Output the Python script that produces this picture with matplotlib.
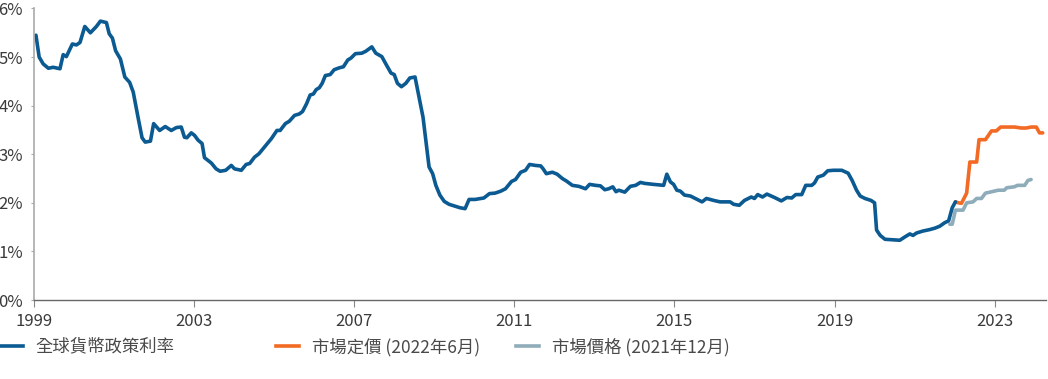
import matplotlib
matplotlib.use('Agg')
import matplotlib.pyplot as plt
from matplotlib.lines import Line2D
from matplotlib.ticker import FuncFormatter

plt.rcParams['font.family'] = ['Noto Sans CJK TC', 'DejaVu Sans']

# Global policy rate (decimal year, %)
policy_years = [
    1999.05, 1999.13, 1999.23, 1999.36, 1999.48, 1999.65, 1999.73, 1999.81, 1999.96,
    2000.06, 2000.15, 2000.27, 2000.41, 2000.56, 2000.66, 2000.81, 2000.88, 2000.96,
    2001.04, 2001.16, 2001.27, 2001.39, 2001.48, 2001.60, 2001.70, 2001.78, 2001.91,
    2001.99, 2002.14, 2002.28, 2002.43, 2002.56, 2002.68, 2002.76, 2002.82, 2002.93,
    2003.01, 2003.10, 2003.20, 2003.26, 2003.43, 2003.55, 2003.65, 2003.79, 2003.93,
    2004.01, 2004.18, 2004.30, 2004.39, 2004.51, 2004.62, 2004.76, 2004.93, 2005.07,
    2005.15, 2005.28, 2005.38, 2005.51, 2005.63, 2005.71, 2005.81, 2005.90, 2005.98,
    2006.05, 2006.13, 2006.20, 2006.28, 2006.40, 2006.50, 2006.63, 2006.73, 2006.84,
    2006.92, 2007.03, 2007.19, 2007.29, 2007.44, 2007.54, 2007.69, 2007.79, 2007.92,
    2008.00, 2008.08, 2008.18, 2008.29, 2008.39, 2008.52, 2008.62, 2008.72, 2008.81,
    2008.87, 2008.96, 2009.04, 2009.14, 2009.25, 2009.37, 2009.52, 2009.64, 2009.77,
    2009.87, 2010.02, 2010.24, 2010.38, 2010.52, 2010.66, 2010.78, 2010.93, 2011.03,
    2011.16, 2011.28, 2011.38, 2011.53, 2011.66, 2011.72, 2011.80, 2011.95, 2012.07,
    2012.20, 2012.30, 2012.45, 2012.61, 2012.78, 2012.88, 2013.03, 2013.15, 2013.26,
    2013.36, 2013.46, 2013.54, 2013.61, 2013.76, 2013.90, 2014.03, 2014.15, 2014.26,
    2014.48, 2014.73, 2014.81, 2014.90, 2014.98, 2015.06, 2015.15, 2015.25, 2015.40,
    2015.52, 2015.69, 2015.80, 2015.98, 2016.14, 2016.39, 2016.48, 2016.62, 2016.75,
    2016.92, 2017.00, 2017.08, 2017.20, 2017.31, 2017.50, 2017.67, 2017.81, 2017.93,
    2018.03, 2018.18, 2018.28, 2018.43, 2018.50, 2018.58, 2018.72, 2018.83, 2018.97,
    2019.18, 2019.34, 2019.44, 2019.55, 2019.64, 2019.76, 2019.91, 2020.00, 2020.05,
    2020.14, 2020.26, 2020.63, 2020.76, 2020.88, 2020.96, 2021.05, 2021.21, 2021.38,
    2021.51, 2021.63, 2021.75, 2021.85, 2021.94, 2022.02,
]
policy_rate = [
    5.45, 5.00, 4.86, 4.77, 4.79, 4.76, 5.05, 5.01, 5.27,
    5.25, 5.30, 5.63, 5.50, 5.63, 5.74, 5.71, 5.48, 5.39,
    5.13, 4.96, 4.59, 4.48, 4.28, 3.76, 3.34, 3.25, 3.27,
    3.63, 3.49, 3.57, 3.49, 3.55, 3.56, 3.35, 3.34, 3.44,
    3.39, 3.29, 3.22, 2.93, 2.82, 2.70, 2.65, 2.67, 2.77,
    2.70, 2.67, 2.79, 2.81, 2.94, 3.01, 3.15, 3.32, 3.49,
    3.49, 3.63, 3.68, 3.80, 3.83, 3.88, 4.04, 4.22, 4.24,
    4.33, 4.37, 4.46, 4.62, 4.64, 4.74, 4.78, 4.80, 4.94,
    4.98, 5.07, 5.08, 5.12, 5.21, 5.08, 5.01, 4.86, 4.67,
    4.64, 4.46, 4.39, 4.46, 4.57, 4.59, 4.17, 3.76, 3.15,
    2.74, 2.60, 2.36, 2.16, 2.03, 1.97, 1.93, 1.90, 1.88,
    2.07, 2.07, 2.10, 2.19, 2.20, 2.24, 2.29, 2.44, 2.48,
    2.63, 2.67, 2.79, 2.77, 2.76, 2.70, 2.60, 2.63, 2.59,
    2.50, 2.45, 2.36, 2.34, 2.29, 2.38, 2.36, 2.35, 2.27,
    2.29, 2.33, 2.23, 2.26, 2.22, 2.34, 2.36, 2.42, 2.40,
    2.38, 2.36, 2.59, 2.43, 2.38, 2.26, 2.24, 2.16, 2.14,
    2.09, 2.02, 2.09, 2.05, 2.02, 2.02, 1.97, 1.95, 2.05,
    2.12, 2.09, 2.17, 2.12, 2.18, 2.11, 2.04, 2.11, 2.10,
    2.17, 2.17, 2.36, 2.36, 2.41, 2.53, 2.57, 2.66, 2.67,
    2.67, 2.61, 2.46, 2.26, 2.14, 2.09, 2.05, 2.00, 1.44,
    1.33, 1.25, 1.23, 1.30, 1.36, 1.33, 1.38, 1.42, 1.45,
    1.48, 1.52, 1.59, 1.63, 1.90, 2.02,
]

# Market pricing as of June 2022
jun22_years = [2022.02, 2022.10, 2022.17, 2022.30, 2022.38, 2022.55, 2022.61, 2022.77,
               2022.92, 2023.04, 2023.15, 2023.50, 2023.66, 2023.79, 2023.91, 2024.04,
               2024.12, 2024.20]
jun22_rate = [2.02, 2.00, 1.99, 2.20, 2.84, 2.84, 3.30, 3.30,
              3.48, 3.48, 3.56, 3.56, 3.54, 3.54, 3.56, 3.56,
              3.44, 3.44]

# Market pricing as of December 2021
dec21_years = [2021.88, 2021.94, 2022.02, 2022.21, 2022.30, 2022.46, 2022.55, 2022.67,
               2022.77, 2022.88, 2023.09, 2023.24, 2023.30, 2023.49, 2023.57, 2023.75,
               2023.83, 2023.91]
dec21_rate = [1.56, 1.56, 1.85, 1.85, 2.00, 2.02, 2.09, 2.09,
              2.20, 2.22, 2.26, 2.26, 2.31, 2.33, 2.36, 2.36,
              2.46, 2.48]

labels = ['全球貨幣政策利率', '市場定價 (2022年6月)', '市場價格 (2021年12月)']
colors = ['#0b5a92', '#f26a24', '#8eacb9']
year_ticks = [1999, 2003, 2007, 2011, 2015, 2019, 2023]

fig = plt.figure(figsize=(10.48, 3.79), dpi=100)
ax = fig.add_axes([0.0324, 0.2084, 0.9656, 0.7692])

ax.plot(dec21_years, dec21_rate, color=colors[2], lw=2.6, solid_capstyle='round')
ax.plot(jun22_years, jun22_rate, color=colors[1], lw=2.6, solid_capstyle='round')
ax.plot(policy_years, policy_rate, color=colors[0], lw=2.6, solid_capstyle='round')

ax.set_xlim(1999, 2024.28)
ax.set_ylim(0, 6)
ax.set_xticks(year_ticks)
ax.set_xticklabels([str(y) for y in year_ticks])
ax.set_yticks(range(0, 7))
ax.yaxis.set_major_formatter(FuncFormatter(lambda v, _: f'{int(v)}%'))

for s in ['top', 'right']:
    ax.spines[s].set_visible(False)
ax.spines['left'].set_color('#aaaaaa')
ax.spines['left'].set_linewidth(1.2)
ax.spines['bottom'].set_color('#666666')
ax.spines['bottom'].set_linewidth(1.0)
ax.tick_params(axis='x', length=5, color='#888888', labelsize=12, labelcolor='#3a3a3a', pad=4)
ax.tick_params(axis='y', length=2, color='#aaaaaa', labelsize=12, labelcolor='#3a3a3a', pad=6)

# legend entries sit at fixed positions along the bottom
legend_x = [0.0, 0.2635, 0.4925]
for lab, col, lx in zip(labels, colors, legend_x):
    h = Line2D([], [], color=col, lw=2.6)
    fig.legend([h], [lab], loc='center left', bbox_to_anchor=(lx, 0.085),
               frameon=False, fontsize=12.5, handlelength=1.3, handletextpad=0.75,
               borderaxespad=0, borderpad=0, labelcolor='#4a4a4a')

fig.savefig('out.png', dpi=100)
